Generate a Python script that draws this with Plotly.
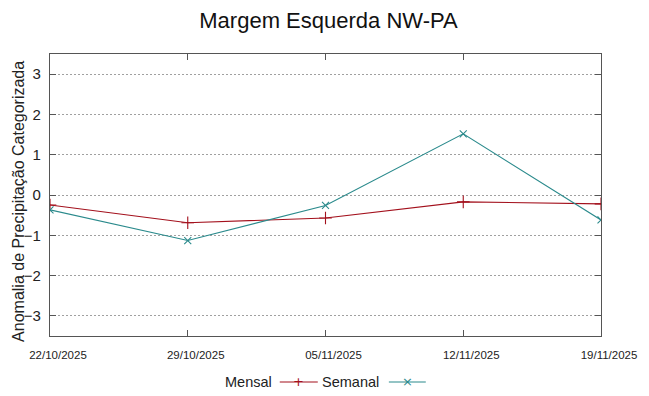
import plotly.graph_objects as go

dates = ["2025-10-22", "2025-10-29", "2025-11-05", "2025-11-12", "2025-11-19"]
tick_labels = ["22/10/2025", "29/10/2025", "05/11/2025", "12/11/2025", "19/11/2025"]
mensal = [-0.25, -0.69, -0.57, -0.17, -0.22]
semanal = [-0.37, -1.13, -0.26, 1.52, -0.62]
y_ticks = [-3, -2, -1, 0, 1, 2, 3]
series_names = ["Mensal", "Semanal"]

RED = "#a3101c"
TEAL = "#2a8a8c"
FONT = "Liberation Sans Narrow, Liberation Sans, Arial, sans-serif"

fig = go.Figure()
fig.add_trace(go.Scatter(x=dates, y=mensal, name=series_names[0], mode="lines+markers",
                         line=dict(color=RED, width=1.1), showlegend=False,
                         marker=dict(symbol="cross-thin", size=9, line=dict(color=RED, width=1.1))))
fig.add_trace(go.Scatter(x=dates, y=semanal, name=series_names[1], mode="lines+markers",
                         line=dict(color=TEAL, width=1.1), showlegend=False,
                         marker=dict(symbol="x-thin", size=7, line=dict(color=TEAL, width=1.1))))

# custom legend: text followed by line sample (gnuplot style)
LEG_Y = -0.163
legend_items = [(series_names[0], RED, "+", 0.407, 0.417, 0.486),
                (series_names[1], TEAL, "×", 0.601, 0.615, 0.682)]
for name, col, sym, xt, x0, x1 in legend_items:
    fig.add_annotation(text=name, xref="paper", yref="paper", x=xt, y=LEG_Y,
                       xanchor="right", yanchor="middle", showarrow=False,
                       font=dict(size=14.5, family=FONT, color="#222222"))
    fig.add_shape(type="line", xref="paper", yref="paper", x0=x0, x1=x1, y0=LEG_Y, y1=LEG_Y,
                  line=dict(color=col, width=1.1))
    fig.add_annotation(text=sym, xref="paper", yref="paper", x=(x0 + x1) / 2, y=LEG_Y,
                       xanchor="center", yanchor="middle", showarrow=False,
                       font=dict(size=13, family="DejaVu Sans", color=col))

# y-axis title as annotation (exact placement)
fig.add_annotation(text="Anomalia de Precipitação Categorizada", xref="paper", yref="paper",
                   x=-0.0563, y=0.479, xanchor="center", yanchor="middle", textangle=-90,
                   showarrow=False, font=dict(size=16, family=FONT, color="#222222"))

fig.update_layout(
    width=641, height=388,
    margin=dict(l=42, r=48, t=46, b=60, autoexpand=False),
    paper_bgcolor="white", plot_bgcolor="white",
    font=dict(family=FONT, color="#222222"),
    title=dict(text="Margem Esquerda NW-PA", x=0.5, xanchor="center", y=1 - 12 / 388, yanchor="middle",
               font=dict(size=22, family=FONT, color="#111111")),
    showlegend=False,
    xaxis=dict(type="date", range=[dates[0], dates[-1]], tickvals=dates, ticktext=tick_labels,
               tickfont=dict(size=11.5, family=FONT), showgrid=False, zeroline=False,
               showline=True, linecolor="#555555", linewidth=1.3, mirror="allticks",
               ticks="inside", ticklen=6, tickcolor="#555555",
               ticklabelstandoff=8, ticklabelshift=8),
    yaxis=dict(range=[-3.5, 3.5], tickvals=y_ticks, tickfont=dict(size=15, family=FONT),
               showgrid=True, gridcolor="#a0a0a0", griddash="2px,2px", gridwidth=1, zeroline=False,
               showline=True, linecolor="#555555", linewidth=1.3, mirror="allticks",
               ticks="inside", ticklen=6, tickcolor="#555555", ticklabelstandoff=5),
)

fig.write_html("out.html")
